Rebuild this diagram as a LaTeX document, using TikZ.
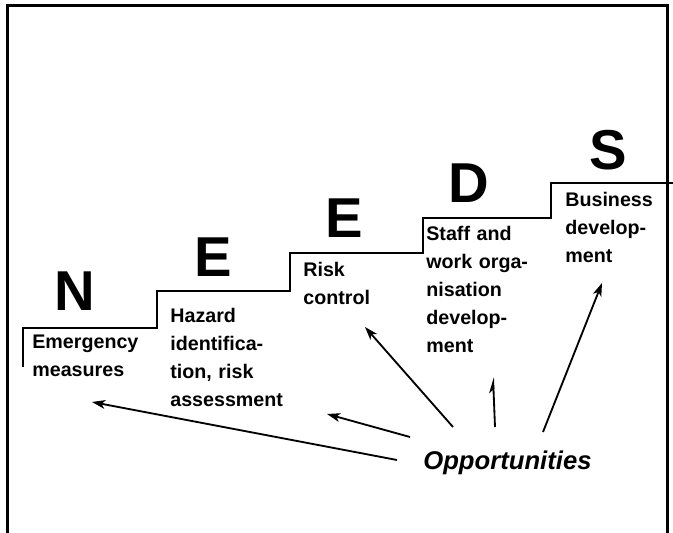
\documentclass[tikz,border=0pt]{standalone}
\usepackage{fontspec}
\setmainfont{Liberation Sans}
\usetikzlibrary{arrows.meta}
\tikzset{>={Stealth[length=7.5pt,width=5pt,inset=2pt]}}
\tikzset{
  frame/.style={line width=1.7pt},
  stair/.style={line width=1.1pt},
  letter/.style={font=\fontsize{32}{32}\selectfont\bfseries, anchor=base, inner sep=0pt},
  label/.style={font=\fontsize{11.2}{15.9}\selectfont\bfseries, anchor=base west, inner sep=0pt, align=left, text width=3cm},
  opp/.style={->, line width=1.05pt}
}

\begin{document}
\begin{tikzpicture}[x=0.02cm, y=-0.02cm]
        \useasboundingbox (0,0) rectangle (673,533);
        % Frame, open at the bottom
        \draw[frame] (7.5,533) -- (7.5,5.5) -- (667.5,5.5) -- (667.5,533);

        % The steps
        \draw[stair] (23,367) |- (157,328) |- (290,291) |- (423,253) |- (551,218) |- (673,183);

        % The letters above each step
        \foreach \x/\y/\l/\n in {75/311/N/n1, 213/277/E/e1, 344/238/E/e2, 469/203/D/d1, 608/170/S/s1}
          \node[letter] (\n) at (\x,\y) {\l};

        % Texts on the steps
        \node[label] (emg) at (32,349) {Emergency\\measures};
        \node[label] (haz) at (170,323) {Hazard\\identifica-\\tion, risk\\assessment};
        \node[label] (risk) at (303,277) {Risk\\control};
        \node[label] (staff) at (426,241) {Staff and\\work orga-\\nisation\\develop-\\ment};
        \node[label] (bus) at (565,207) {Business\\develop-\\ment};

        \node[font=\fontsize{14.6}{15}\selectfont\bfseries\itshape, anchor=base west, inner sep=0pt] (opp) at (423,470) {Opportunities};

        % Arrow ends
        \coordinate (o1) at (397,460);
        \coordinate (t1) at (92,402);
        \coordinate (o2) at (410,437);
        \coordinate (t2) at (327,414);
        \coordinate (o3) at (453,427);
        \coordinate (t3) at (365,327);
        \coordinate (o4) at (495,427);
        \coordinate (t4) at (493,377);
        \coordinate (o5) at (543,432);
        \coordinate (t5) at (602,283);

        \draw[opp] (o1) -- (t1);
        \draw[opp] (o2) -- (t2);
        \draw[opp] (o3) -- (t3);
        \draw[opp, -{Stealth[harpoon,length=7.5pt,width=5pt,inset=2pt]}] (o4) -- (t4);
        \draw[opp] (o5) -- (t5);
\end{tikzpicture}
\end{document}
